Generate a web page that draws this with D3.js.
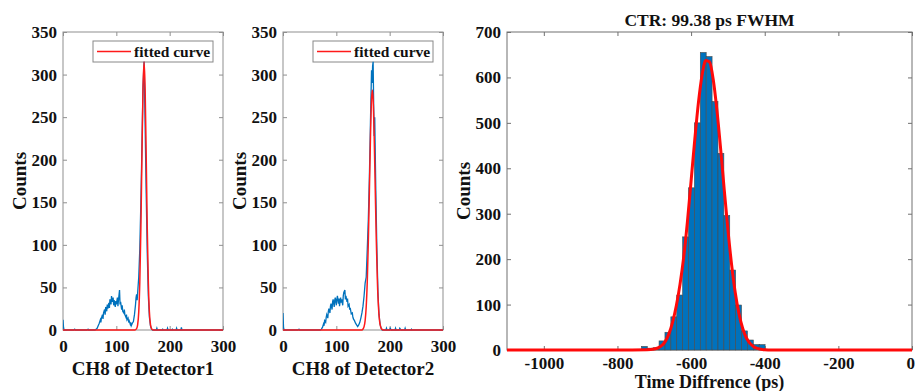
<!DOCTYPE html>
<html>
<head>
<meta charset="utf-8">
<script src="https://cdnjs.cloudflare.com/ajax/libs/d3/7.8.5/d3.min.js"></script>
<style>
  body { margin: 0; background: #fff; }
  svg text { font-family: 'Liberation Serif', 'Times New Roman', serif; font-weight: bold; fill: #111; }
</style>
</head>
<body>
<div id="chart"></div>
<script>
// ---- data ----
// channel spectra [channel, counts]
const det1Counts = [[0,12],[1,3],[2,0],[20,0],[22,1],[23,0],[45,0],[47,1],[48,0],[60,0],[62,1],[64,2],[66,5],[68,8],[70,12],[71,9],[72,14],[74,18],[75,13],[76,20],[78,24],[79,18],[80,27],[82,22],[83,30],[84,25],[86,32],[87,26],[88,36],[90,30],[91,40],[92,33],[94,38],[95,29],[96,35],[98,27],[99,34],[100,30],[102,38],[103,28],[104,35],[106,47],[107,30],[108,33],[110,24],[111,29],[112,22],[114,20],[115,24],[116,18],[118,15],[119,18],[120,12],[122,14],[123,10],[124,11],[126,7],[127,9],[128,5],[130,8],[132,10],[134,18],[136,30],[137,38],[138,42],[139,35],[140,44],[142,62],[144,95],[146,150],[148,215],[150,285],[151,300],[152,315],[153,276],[154,240],[156,160],[158,90],[160,40],[162,15],[164,5],[166,1],[168,0],[175,0],[176,2],[177,0],[186,0],[187,1],[188,0],[195,0],[196,2],[197,0],[204,0],[205,1],[206,0],[212,0],[213,2],[214,0],[221,0],[222,3],[223,0],[300,0]];
const det1Fit = [[0,0],[133,0],[135,0.1],[138,1.6],[140,6.4],[142,21],[144,56],[146,119],[148,204],[150,283],[152,315],[154,283],[156,204],[158,119],[160,56],[162,21],[164,6.4],[166,1.6],[169,0],[300,0]];

const det2Counts = [[0,20],[1,3],[2,0],[28,0],[30,1],[31,0],[70,0],[72,1],[74,3],[76,7],[77,5],[78,11],[80,9],[81,15],[82,18],[84,14],[85,22],[86,25],[88,20],[89,28],[90,31],[92,24],[93,33],[94,36],[96,27],[97,35],[98,38],[100,29],[101,36],[102,40],[104,31],[105,37],[106,28],[108,38],[109,32],[110,36],[112,29],[113,40],[114,44],[116,47],[117,36],[118,40],[120,33],[121,37],[122,28],[124,30],[125,24],[126,26],[128,19],[130,20],[131,15],[132,13],[134,11],[136,8],[138,6],[140,4],[142,6],[144,9],[146,14],[148,20],[150,28],[152,40],[154,55],[156,62],[158,95],[160,130],[162,180],[164,245],[166,305],[167,290],[168,310],[169,315],[170,265],[171,228],[172,250],[174,165],[176,95],[178,45],[180,18],[182,7],[184,2],[186,0],[193,0],[194,2],[195,0],[200,0],[201,2],[202,1],[203,0],[210,0],[211,2],[212,0],[218,0],[219,2],[220,1],[221,0],[228,0],[229,2],[230,0],[240,0],[241,1],[242,0],[300,0]];
const det2Fit = [[0,0],[148,0],[150,1.2],[152,3.9],[154,11],[156,27],[158,57],[160,104],[162,164],[164,226],[166,271],[167.5,282],[169,271],[171,226],[173,164],[175,104],[177,57],[179,27],[181,11],[183,3.9],[185,1.2],[188,0],[300,0]];

const chTicks = [0, 100, 200, 300];
const countTicks = [0, 50, 100, 150, 200, 250, 300, 350];

// time difference histogram
const binLefts = [-735,-719,-703,-687,-671,-655,-639,-623,-607,-591,-575,-559,-543,-527,-511,-495,-479,-463,-447,-431,-415];
const binWidth = 16;
const binCounts = [8,4,5,20,39,73,121,249,357,500,655,646,547,433,296,176,99,42,22,12,12];
const ctrFit = [[-1100,0],[-760,0],[-720,0.3],[-700,2],[-690,4.5],[-680,9.5],[-670,19],[-660,36],[-650,62],[-640,98],[-630,145],[-620,205],[-610,282],[-600,372],[-590,463],[-580,545],[-570,606],[-560,637],[-550,634],[-540,596],[-530,529],[-520,445],[-510,353],[-500,265],[-490,188],[-480,126],[-470,80],[-460,48],[-450,27],[-440,14.6],[-430,7.4],[-420,3.6],[-410,1.6],[-400,0.7],[-380,0.1],[-340,0],[0,0]];
const timeTicks = [-1000, -800, -600, -400, -200, 0];
const histCountTicks = [0, 100, 200, 300, 400, 500, 600, 700];

const panels = [
  { x0: 63, x1: 223, y0: 32, y1: 330, xDomain: [0, 300], yDomain: [0, 350], xTicks: chTicks, yTicks: countTicks,
    xLabel: 'CH8 of Detector1', labelY: 375, labelSize: 19, pad: 10, counts: det1Counts, fit: det1Fit, yLabelX: 26, box: '#8f8f8f' },
  { x0: 283, x1: 443, y0: 32, y1: 330, xDomain: [0, 300], yDomain: [0, 350], xTicks: chTicks, yTicks: countTicks,
    xLabel: 'CH8 of Detector2', labelY: 375, labelSize: 19, pad: 10, counts: det2Counts, fit: det2Fit, yLabelX: 246, box: '#8f8f8f' }
];
const histPanel = { x0: 507, x1: 912, y0: 32, y1: 350, xDomain: [-1100, 0], yDomain: [0, 700], xTicks: timeTicks,
  yTicks: histCountTicks, xLabel: 'Time Diffrence (ps)', labelY: 388, labelSize: 18, pad: 7, yLabelX: 470, box: '#707070' };

const svg = d3.select('#chart').append('svg')
  .attr('width', 915).attr('height', 391);
svg.append('rect').attr('width', 915).attr('height', 391).attr('fill', '#fff');

function buildFrame(p, id) {
  const x = d3.scaleLinear().domain(p.xDomain).range([p.x0, p.x1]);
  const y = d3.scaleLinear().domain(p.yDomain).range([p.y1, p.y0]);

  svg.append('clipPath').attr('id', 'clip' + id)
    .append('rect').attr('x', p.x0).attr('y', p.y0 - 2)
    .attr('width', p.x1 - p.x0).attr('height', p.y1 - p.y0 + 4);

  const g = svg.append('g');
  const plot = svg.append('g').attr('clip-path', `url(#clip${id})`);
  return { x, y, g, plot };
}

function drawAxes(p, f) {
  const tick = 4;
  //plain labels, MATLAB style: hyphen minus and no thousands comma
  const plain = d => String(d);
  const styleAxis = sel => {
    sel.select('.domain').remove();
    sel.selectAll('line').attr('stroke', p.box);
    sel.selectAll('text').style('font-size', '17px').attr('fill', '#111');
  };
  const xb = f.g.append('g').attr('transform', `translate(0,${p.y1})`)
    .call(d3.axisBottom(f.x).tickValues(p.xTicks).tickSize(-tick).tickPadding(p.pad).tickFormat(plain))
    .call(styleAxis);
  // keep the last label inside the page
  xb.selectAll('.tick text').filter(d => f.x(d) > 905).attr('text-anchor', 'end').attr('dx', '0.15em');

  f.g.append('g').attr('transform', `translate(0,${p.y0})`)
    .call(d3.axisTop(f.x).tickValues(p.xTicks).tickSize(-tick).tickFormat(''))
    .call(styleAxis);
  f.g.append('g').attr('transform', `translate(${p.x0},0)`)
    .call(d3.axisLeft(f.y).tickValues(p.yTicks).tickSize(-tick).tickPadding(6).tickFormat(plain))
    .call(styleAxis);
  f.g.append('g').attr('transform', `translate(${p.x1},0)`)
    .call(d3.axisRight(f.y).tickValues(p.yTicks).tickSize(-tick).tickFormat(''))
    .call(styleAxis);

  f.g.append('rect')
    .attr('x', p.x0).attr('y', p.y0)
    .attr('width', p.x1 - p.x0).attr('height', p.y1 - p.y0)
    .attr('fill', 'none').attr('stroke', p.box).attr('stroke-width', 1);

  f.g.append('text')
    .attr('x', (p.x0 + p.x1) / 2).attr('y', p.labelY)
    .attr('text-anchor', 'middle').style('font-size', p.labelSize + 'px')
    .text(p.xLabel);

  f.g.append('text')
    .attr('transform', `translate(${p.yLabelX},${(p.y0 + p.y1) / 2}) rotate(-90)`)
    .attr('text-anchor', 'middle').style('font-size', '19px')
    .text('Counts');
}

// ---- spectrum panels ----
panels.forEach((p, i) => {
  const f = buildFrame(p, i);
  const line = d3.line().x(d => f.x(d[0])).y(d => f.y(d[1]));

  f.plot.append('path').datum(p.counts)
    .attr('d', line).attr('fill', 'none')
    .attr('stroke', '#0072BD').attr('stroke-width', 1.3);

  f.plot.append('path').datum(p.fit)
    .attr('d', line.curve(d3.curveMonotoneX)).attr('fill', 'none')
    .attr('stroke', '#ff1a1a').attr('stroke-width', 1.5);

  drawAxes(p, f);

  // legend
  const lg = f.g.append('g');
  lg.append('rect')
    .attr('x', p.x0 + 30).attr('y', p.y0 + 9)
    .attr('width', 120).attr('height', 21)
    .attr('fill', '#fff').attr('stroke', '#888').attr('stroke-width', 1);
  lg.append('line')
    .attr('x1', p.x0 + 34).attr('x2', p.x0 + 68)
    .attr('y1', p.y0 + 19.5).attr('y2', p.y0 + 19.5)
    .attr('stroke', '#ff1a1a').attr('stroke-width', 1.5);
  lg.append('text')
    .attr('x', p.x0 + 71).attr('y', p.y0 + 25)
    .style('font-size', '15.5px')
    .text('fitted curve');
});

// ---- CTR histogram ----
const hf = buildFrame(histPanel, 2);
hf.plot.selectAll('rect.bar')
  .data(binLefts)
  .join('rect')
  .attr('class', 'bar')
  .attr('x', d => hf.x(d))
  .attr('width', d => hf.x(d + binWidth) - hf.x(d))
  .attr('y', (d, i) => hf.y(binCounts[i]))
  .attr('height', (d, i) => hf.y(0) - hf.y(binCounts[i]))
  .attr('fill', '#0072BD')
  .attr('stroke', '#4a4a4a').attr('stroke-width', 0.6);

hf.plot.append('path').datum(ctrFit)
  .attr('d', d3.line().x(d => hf.x(d[0])).y(d => hf.y(d[1])).curve(d3.curveMonotoneX))
  .attr('fill', 'none')
  .attr('stroke', '#ff0a0a').attr('stroke-width', 3);

drawAxes(histPanel, hf);

svg.append('text')
  .attr('x', (histPanel.x0 + histPanel.x1) / 2).attr('y', 26)
  .attr('text-anchor', 'middle').style('font-size', '17.5px')
  .text('CTR: 99.38 ps FWHM');
</script>
</body>
</html>
